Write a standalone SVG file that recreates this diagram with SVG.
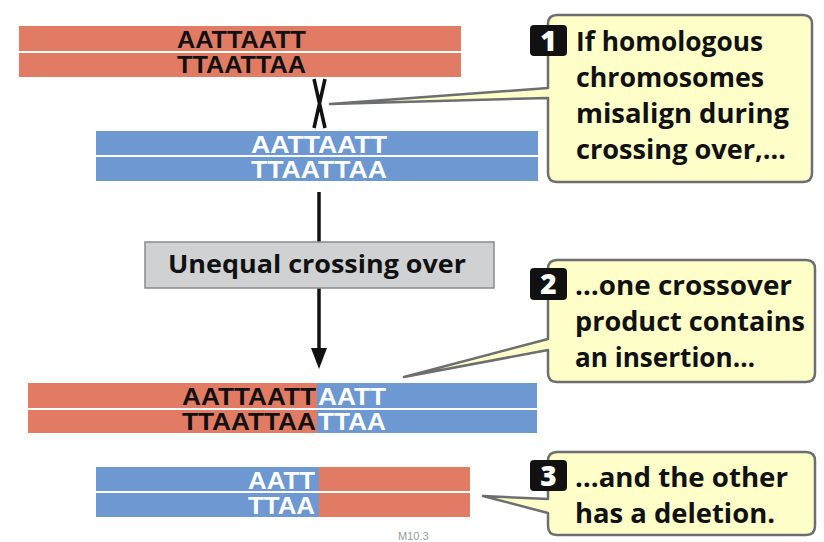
<svg xmlns="http://www.w3.org/2000/svg" width="824" height="542" viewBox="0 0 824 542">
<style>
.red{fill:#e17b64}
.blue{fill:#6d98d2}
.seq{font-family:"Liberation Sans",Arial,sans-serif;font-weight:bold;font-size:24px}
.dk{fill:#111}
.wt{fill:#fff}
.call{fill:#fefec9;stroke:#6d6e70;stroke-width:2.5;stroke-linejoin:round}
.ct{font-family:"Open Sans","Noto Sans",sans-serif;font-weight:bold;font-size:26px;fill:#111}
.badge{fill:#111}
.bn{font-family:"Open Sans","Noto Sans",sans-serif;font-weight:800;font-size:28px;fill:#fff;text-anchor:middle}
</style>
<rect width="824" height="542" fill="#fff"/>

<g id="top-red">
<rect class="red" x="19" y="26" width="442" height="25"/>
<rect class="red" x="19" y="53" width="442" height="24"/>
<text class="seq dk" x="177" y="48" textLength="129" lengthAdjust="spacingAndGlyphs">AATTAATT</text>
<text class="seq dk" x="177" y="73" textLength="129" lengthAdjust="spacingAndGlyphs">TTAATTAA</text>
</g>

<g id="top-blue">
<rect class="blue" x="96" y="131" width="442" height="24"/>
<rect class="blue" x="96" y="157" width="442" height="24"/>
<text class="seq wt" x="251" y="153" textLength="136" lengthAdjust="spacingAndGlyphs">AATTAATT</text>
<text class="seq wt" x="251" y="178" textLength="136" lengthAdjust="spacingAndGlyphs">TTAATTAA</text>
</g>

<g id="crossover-x">
<path d="M314 79 L325 128 M325 79 L314 128" stroke="#111" stroke-width="3.5" fill="none"/>
</g>

<g id="connectors">
<line x1="319" y1="192" x2="319" y2="350" stroke="#111" stroke-width="3.5"/>
<polygon points="311,348 327,348 319,369" fill="#111"/>
</g>

<g id="step-box">
<rect x="145" y="242" width="349" height="46" fill="#d0d1d3" stroke="#8a8b8d" stroke-width="1.5"/>
<text x="168" y="273" font-family="Open Sans, Noto Sans, sans-serif" font-weight="bold" font-size="25" fill="#111" textLength="298" lengthAdjust="spacingAndGlyphs">Unequal crossing over</text>
</g>

<g id="insertion-product">
<rect class="red" x="28" y="383" width="289" height="25"/>
<rect class="red" x="28" y="410" width="289" height="23"/>
<rect class="blue" x="317" y="383" width="220" height="25"/>
<rect class="blue" x="317" y="410" width="220" height="23"/>
<text class="seq dk" x="182" y="405" textLength="134" lengthAdjust="spacingAndGlyphs">AATTAATT</text>
<text class="seq wt" x="318" y="405" textLength="68" lengthAdjust="spacingAndGlyphs">AATT</text>
<text class="seq dk" x="182" y="430" textLength="134" lengthAdjust="spacingAndGlyphs">TTAATTAA</text>
<text class="seq wt" x="318" y="430" textLength="68" lengthAdjust="spacingAndGlyphs">TTAA</text>
</g>

<g id="deletion-product">
<rect class="blue" x="96" y="467" width="223" height="24"/>
<rect class="blue" x="96" y="493" width="223" height="24"/>
<rect class="red" x="319" y="467" width="151" height="24"/>
<rect class="red" x="319" y="493" width="151" height="24"/>
<text class="seq wt" x="248" y="489" textLength="67" lengthAdjust="spacingAndGlyphs">AATT</text>
<text class="seq wt" x="248" y="514" textLength="67" lengthAdjust="spacingAndGlyphs">TTAA</text>
</g>

<g id="callout-1">
<path class="call" d="M557 15 H803 Q812 15 812 24 V173 Q812 182 803 182 H557 Q548 182 548 173 V98 L330 104 L548 88 V24 Q548 15 557 15 Z"/>
<rect class="badge" x="530" y="25" width="37" height="31" rx="4"/>
<text class="bn" x="548.5" y="51">1</text>
<text class="ct" x="576" y="51" textLength="187" lengthAdjust="spacingAndGlyphs">If homologous</text>
<text class="ct" x="576" y="87" textLength="188" lengthAdjust="spacingAndGlyphs">chromosomes</text>
<text class="ct" x="576" y="123" textLength="213" lengthAdjust="spacingAndGlyphs">misalign during</text>
<text class="ct" x="576" y="159" textLength="210" lengthAdjust="spacingAndGlyphs">crossing over,…</text>
</g>

<g id="callout-2">
<path class="call" d="M557 260 H806 Q815 260 815 269 V373 Q815 382 806 382 H557 Q548 382 548 373 V350 L404 377 L548 339 V269 Q548 260 557 260 Z"/>
<rect class="badge" x="530" y="268" width="37" height="32" rx="4"/>
<text class="bn" x="548.5" y="294">2</text>
<text class="ct" x="575" y="295" textLength="217" lengthAdjust="spacingAndGlyphs">…one crossover</text>
<text class="ct" x="575" y="331" textLength="230" lengthAdjust="spacingAndGlyphs">product contains</text>
<text class="ct" x="575" y="367" textLength="180" lengthAdjust="spacingAndGlyphs">an insertion…</text>
</g>

<g id="callout-3">
<path class="call" d="M557 452 H806 Q815 452 815 461 V526 Q815 535 806 535 H557 Q548 535 548 526 V513 L483 496 L548 499 V461 Q548 452 557 452 Z"/>
<rect class="badge" x="530" y="460" width="37" height="31" rx="4"/>
<text class="bn" x="548.5" y="486">3</text>
<text class="ct" x="575" y="487" textLength="213" lengthAdjust="spacingAndGlyphs">…and the other</text>
<text class="ct" x="575" y="523" textLength="200" lengthAdjust="spacingAndGlyphs">has a deletion.</text>
</g>

<text x="398" y="540" font-family="Liberation Sans, Arial, sans-serif" font-size="11" fill="#9a9a9a">M10.3</text>
</svg>
